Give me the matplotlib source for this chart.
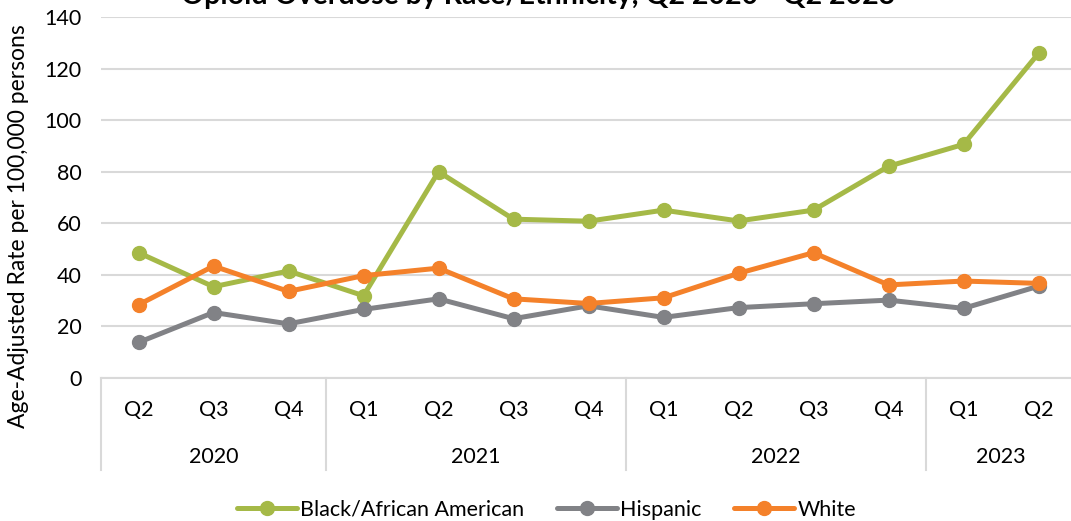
import matplotlib
matplotlib.use("Agg")
import matplotlib.pyplot as plt
import matplotlib.transforms as mtransforms

plt.rcParams['font.family'] = ['Lato', 'DejaVu Sans']

quarters = ['Q2', 'Q3', 'Q4', 'Q1', 'Q2', 'Q3', 'Q4', 'Q1', 'Q2', 'Q3', 'Q4', 'Q1', 'Q2']
years = ['2020', '2021', '2022', '2023']
year_counts = [3, 4, 4, 2]

black = [48.6, 35.4, 41.5, 31.9, 80.0, 61.6, 60.8, 65.1, 60.9, 65.1, 82.1, 90.6, 125.9]
hispanic = [13.8, 25.4, 21.0, 26.6, 30.7, 23.0, 28.0, 23.5, 27.3, 28.8, 30.2, 27.0, 35.6]
white = [28.4, 43.4, 33.6, 39.7, 42.6, 30.7, 28.9, 31.1, 40.6, 48.6, 36.1, 37.6, 36.7]

series = [('Black/African American', black, '#a5b947'),
          ('Hispanic', hispanic, '#818286'),
          ('White', white, '#f4812a')]

fig = plt.figure(figsize=(10.71, 5.21), dpi=100)
ax = fig.add_axes([101 / 1071, 143 / 521, 975 / 1071, 361 / 521])

x = list(range(len(quarters)))
for name, vals, col in series:
    ax.plot(x, vals, color=col, lw=3.6, marker='o', ms=10, label=name,
            solid_capstyle='round', solid_joinstyle='round', zorder=3)

ax.set_xlim(-0.5, len(quarters) - 0.5)
ax.set_ylim(0, 140)
ax.set_yticks(range(0, 141, 20))
ax.grid(axis='y', color='#d9d9d9', lw=1.5, zorder=0)
for s in ['top', 'right', 'left']:
    ax.spines[s].set_visible(False)
ax.spines['bottom'].set_color('#d9d9d9')
ax.spines['bottom'].set_linewidth(1.5)
ax.tick_params(axis='y', length=0, pad=14, labelsize=15.5)
ax.tick_params(axis='x', length=0, pad=16, labelsize=15.5)
ax.set_xticks(x)
ax.set_xticklabels(quarters)

# year groups below the quarter labels, with separators
trans = mtransforms.blended_transform_factory(ax.transData, ax.transAxes)
start = -0.5
ax.plot([start, start], [0, -0.255], transform=trans, color='#d9d9d9', lw=1.5, clip_on=False)
for yr, n in zip(years, year_counts):
    end = start + n
    ax.text((start + end) / 2, -0.218, yr, transform=trans, ha='center', va='center', fontsize=15.5)
    if end < len(quarters) - 0.5:
        ax.plot([end, end], [0, -0.255], transform=trans, color='#d9d9d9', lw=1.5, clip_on=False)
    start = end

ax.set_ylabel('Age-Adjusted Rate per 100,000 persons', fontsize=16.5)
ax.yaxis.set_label_coords(-0.074, 0.42)

fig.text(0.502, 0.992, 'Opioid Overdose by Race/Ethnicity, Q2 2020 - Q2 2023',
         ha='center', va='baseline', fontsize=20.5, fontweight='bold')

fig.legend(loc='lower center', bbox_to_anchor=(0.51, -0.035), ncol=3, frameon=False,
           fontsize=15.5, handlelength=2.8, columnspacing=1.5, handletextpad=0.15)

fig.savefig('out.png', dpi=100)
